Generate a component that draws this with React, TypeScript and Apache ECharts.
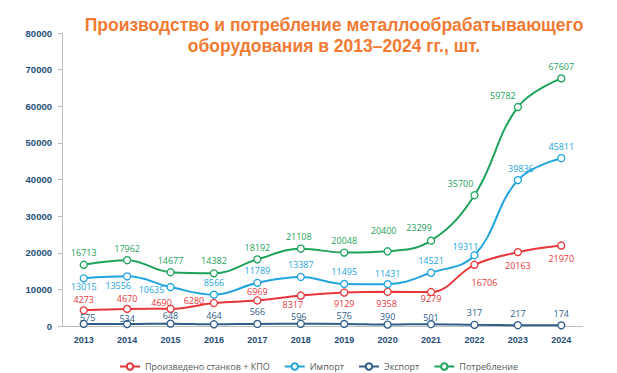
import React, { useEffect, useRef } from "react";
import * as echarts from "echarts";

const years = ["2013", "2014", "2015", "2016", "2017", "2018", "2019", "2020", "2021", "2022", "2023", "2024"];
const produced = [4273, 4670, 4690, 6280, 6969, 8317, 9129, 9358, 9279, 16706, 20163, 21970];
const imported = [13015, 13556, 10635, 8566, 11789, 13387, 11495, 11431, 14521, 19311, 39836, 45811];
const exported = [575, 534, 648, 464, 566, 596, 576, 390, 501, 317, 217, 174];
const consumption = [16713, 17962, 14677, 14382, 18192, 21108, 20048, 20400, 23299, 35700, 59782, 67607];
const yTicks = [0, 10000, 20000, 30000, 40000, 50000, 60000, 70000, 80000];

// label offsets (style), [dx, dy] from point to label centre
const producedOff = [[0, -11], [0, -10], [-9, -6], [-20, -2], [0, -9], [-8, 9], [0, 11], [-1, 12], [0, 6], [10, 18], [0, 13], [0, 13]];
const importedOff = [[0, 8], [-9, 9], [-19, 2], [0, -12], [0, -12], [0, -12], [0, -12], [0, -11], [0, -12], [-9, -9], [3, -12], [0, -12]];
const exportedOff = [[4, -6], [0, -6], [0, -8], [0, -9], [0, -12], [-2, -7], [0, -8], [0, -8], [0, -7], [0, -12], [0, -12], [0, -12]];
const consumptionOff = [[0, -12], [0, -12], [0, -12], [0, -13], [0, -12], [-2, -12], [0, -12], [-4, -21], [-12, -13], [-14, -12], [-15, -12], [0, -12]];

const RED = "#E8363A";
const LBLUE = "#22A5DE";
const DBLUE = "#2F5C89";
const GREEN = "#1DA35A";

function mkSeries(name: string, data: number[], offs: number[][], color: string) {
  return {
    name,
    type: "line",
    smooth: 0.4,
    symbol: "circle",
    symbolSize: 7,
    itemStyle: { color: "#fff", borderColor: color, borderWidth: 1.3 },
    lineStyle: { color, width: 2 },
    data: data.map((v, i) => ({
      value: v,
      label: { offset: offs[i] },
    })),
    label: {
      show: true,
      position: "inside",
      color,
      fontFamily: "Open Sans",
      fontSize: 9,
      lineHeight: 10,
      align: "center",
      verticalAlign: "middle",
    },
    z: 3,
  };
}

export default function App() {
  const ref = useRef<HTMLDivElement>(null);
  useEffect(() => {
    if (!ref.current) return;
    const chart = echarts.init(ref.current, undefined, { renderer: "svg" });
    chart.setOption({
      animation: false,
      backgroundColor: "#fff",
      title: {
        text: "Производство и потребление металлообрабатывающего\nоборудования в 2013–2024 гг., шт.",
        left: 329,
        textAlign: "center",
        top: 9,
        textStyle: {
          color: "#F27A32",
          fontFamily: "Liberation Sans",
          fontWeight: "bold",
          fontSize: 17.5,
          lineHeight: 21,
        },
      },
      grid: { left: 62, right: 34, top: 33, bottom: 47 },
      legend: {
        top: 357,
        left: 114,
        itemWidth: 20,
        itemHeight: 8,
        itemGap: 14,
        textStyle: { color: "#595959", fontFamily: "Open Sans", fontSize: 9 },
        data: ["Произведено станков + КПО", "Импорт", "Экспорт", "Потребление"],
      },
      xAxis: {
        type: "category",
        data: years,
        boundaryGap: true,
        axisLine: { lineStyle: { color: "#BFBFBF", width: 1 } },
        axisTick: { show: false },
        axisLabel: {
          color: "#1F4E79",
          fontWeight: "bold",
          fontFamily: "Liberation Sans",
          fontSize: 9,
          margin: 9,
        },
      },
      yAxis: {
        type: "value",
        min: yTicks[0],
        max: yTicks[yTicks.length - 1],
        interval: 10000,
        splitLine: { show: false },
        axisLine: { show: true, lineStyle: { color: "#BFBFBF", width: 1 } },
        axisTick: { show: true, length: 4, lineStyle: { color: "#BFBFBF" } },
        axisLabel: {
          color: "#1F4E79",
          fontWeight: "bold",
          fontFamily: "Liberation Sans",
          fontSize: 9.5,
          margin: 10,
          formatter: (v: number) => String(v),
        },
      },
      series: [
        mkSeries("Произведено станков + КПО", produced, producedOff, RED),
        mkSeries("Импорт", imported, importedOff, LBLUE),
        mkSeries("Экспорт", exported, exportedOff, DBLUE),
        mkSeries("Потребление", consumption, consumptionOff, GREEN),
      ],
    });
    return () => chart.dispose();
  }, []);
  return <div ref={ref} style={{ width: 617, height: 373, position: "absolute", left: 0, top: 0 }} />;
}
